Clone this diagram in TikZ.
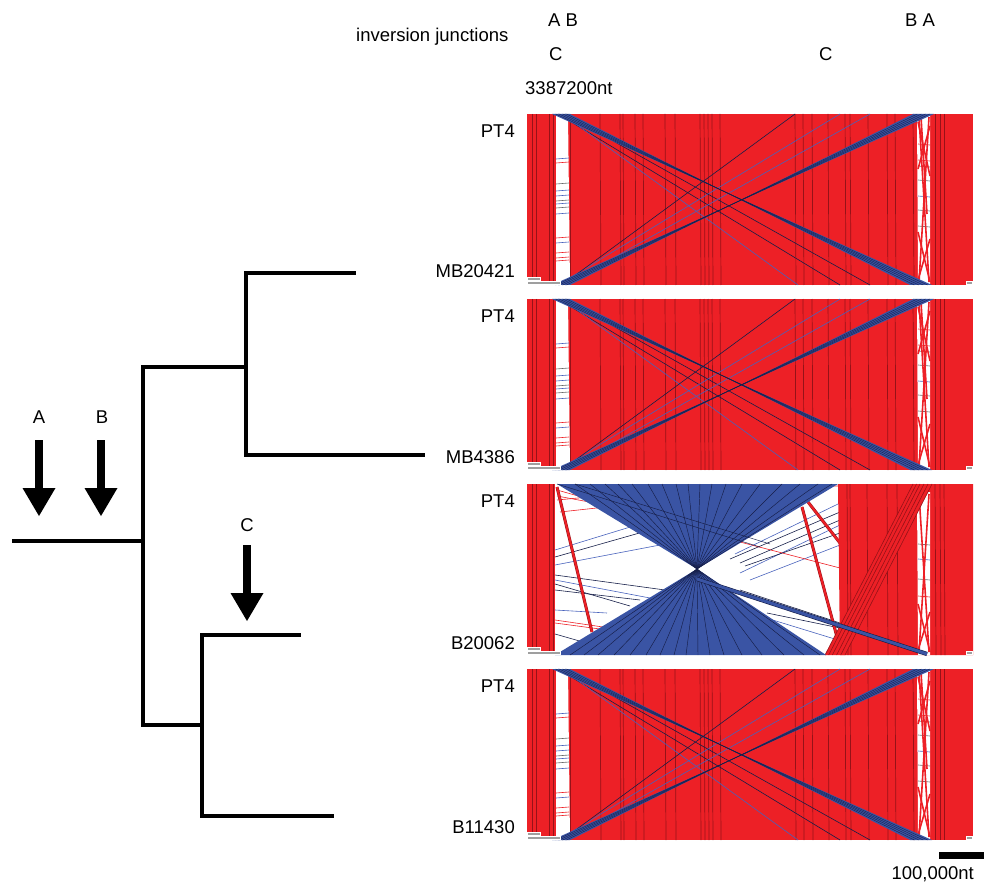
\documentclass[tikz,border=0pt]{standalone}
\usepackage{fontspec}
\setmainfont{Liberation Sans}
\definecolor{matchred}{RGB}{237,32,38}
\definecolor{edgered}{RGB}{150,18,24}
\definecolor{invblue}{RGB}{58,84,164}
\definecolor{navy}{RGB}{22,30,72}
\definecolor{thinblue}{RGB}{72,98,188}
\definecolor{stripgray}{RGB}{105,105,105}
\tikzset{
  lbl/.style={font=\fontsize{18.5}{22}\selectfont, inner sep=0pt},
  branch/.style={line width=4.5pt, line join=miter},
  blockedge/.style={edgered, line width=0.7pt},
  hit/.style={line width=0.6pt},
}
% a mutation marker: shaft and head pointing down at the branch
\newcommand{\mutarrow}[3]{%
  \fill (#1-3.8,#2) rectangle (#1+3.8,#3-27);
  \fill (#1-16.5,#3-28) -- (#1+16.5,#3-28) -- (#1,#3) -- cycle;}
% tiny run labels printed by the comparison viewer
\newcommand{\runtags}{%
  \fill[white] (527,163) rectangle (541,167);
  \fill[white] (527,167) rectangle (561,171);
  \fill[gray!75] (528,164.2) rectangle (540,166);
  \fill[gray!75] (528,168.2) rectangle (560,170);
  \fill[white] (966,167) rectangle (973,171);
  \fill[gray!75] (967,168.2) rectangle (972,170);}
% comparison with the double inversion A/B (height 171)
\newcommand{\collinearpanel}[1]{%
\begin{scope}[shift={(0,#1)}]
  \fill[matchred] (527,0) rectangle (973,171);
  \fill[white] (556,0) -- (568,0) -- (570,171) -- (556,171) -- cycle;
  \fill[white] (917,0) -- (930,0) -- (930,171) -- (918,171) -- cycle;
  \foreach \a/\b in {532/532,536/536,549/549,553/553,570/570,600/601,620/621,623/624,
      635/636,643/644,665/666,675/676,700/701,704/705,708/709,712/713,720/721,
      795/796,803/804,812/813,828/829,845/846,850/851,868/869,887/888,895/896,
      913/914,935/935,940/940,944/944}
    \draw[blockedge] (\a,0) -- (\b,171);
  % short hits inside the left gap
  \foreach \y/\c in {44/thinblue,48/matchred,69/stripgray,76/thinblue,81/thinblue,
      86/stripgray,89/thinblue,93/stripgray,99/thinblue,123/matchred,128/thinblue,
      138/matchred,143/matchred,146/matchred}
    \draw[hit,color=\c] (556,\y+1) -- (569,\y);
  % hits inside the right gap
  \foreach \y/\c in {30/matchred,46/matchred,52/stripgray,66/stripgray,82/thinblue,
      96/stripgray,112/stripgray}
    \draw[hit,color=\c] (918,\y) -- (930,\y+1);
  \foreach \a/\b/\c/\d in {919/3/929/168,929/3/919/168,918/8/930/62,930/12/918/55,
      918/118/930/168,930/125/918/166,921/3/927/100}
    \draw[matchred,line width=1.6pt] (\a,\b) -- (\c,\d);
  % thin crossing hits
  \draw[navy,hit] (558,0) -- (840,171);
  \draw[thinblue,hit] (562,0) -- (798,171);
  \draw[thinblue,hit] (558,171) -- (840,0);
  \draw[navy,hit] (562,171) -- (795,0);
  \draw[navy,hit] (565,0) -- (870,171);
  \draw[thinblue,hit] (565,171) -- (870,0);
  % inverted blocks
  \fill[invblue] (552,0) -- (570,0) -- (910,171) -- (932,171) -- cycle;
  \fill[invblue] (552,171) -- (570,171) -- (913,0) -- (934,0) -- cycle;
  \foreach \s in {0.2,0.4,0.6,0.8} {
    \draw[navy,line width=0.35pt] (552+18*\s,0) -- (932-22*\s,171);
    \draw[navy,line width=0.35pt] (552+18*\s,171) -- (934-21*\s,0);}
  \runtags
\end{scope}}

\begin{document}
\begin{tikzpicture}[x=1pt,y=-1pt]
\useasboundingbox (0,0) rectangle (984,882);

% ---------------- header ----------------
\node[lbl,anchor=base west] (invj) at (356,42) {inversion junctions};
\node[lbl,anchor=base west] (abL) at (548,27) {A B};
\node[lbl,anchor=base west] (cL) at (549,61) {C};
\node[lbl,anchor=base west] (baR) at (905,27) {B A};
\node[lbl,anchor=base west] (cR) at (819,61) {C};
\node[lbl,anchor=base west] (len) at (525,95) {3387200nt};

% ---------------- comparisons ----------------
\collinearpanel{114}
\collinearpanel{299}
\collinearpanel{669}

% B20062: inversion C
\begin{scope}[shift={(0,484)}]
  \fill[matchred] (527,0) rectangle (555,171);
  \foreach \a in {532,536,549,553} \draw[blockedge] (\a,0) -- (\a,171);
  % hits in the open areas
  \foreach \a/\b/\c/\d/\k in {555/73/650/46/navy,555/81/660/61/thinblue,555/91/665/106/navy,
      555/96/650/114/thinblue,555/106/640/116/navy,555/126/607/129/thinblue,
      555/66/640/40/thinblue,555/100/630/122/navy,555/150/590/160/navy,
      740/79/840/36/navy,740/89/840/41/thinblue,745/82/840/49/navy,750/96/840/61/thinblue,
      740/106/840/139/navy,767/129/840/144/navy,740/126/838/156/thinblue,
      730/75/840/28/navy,735/70/838/20/thinblue}
    \draw[hit,color=\k] (\a,\b) -- (\c,\d);
  \foreach \a/\b/\c/\d in {555/136/603/143,555/139/600/145,557/6/617/23,557/16/610/11,
      557/12/600/20,560/28/615/22,740/58/840/84,800/3/838/2}
    \draw[hit,matchred] (\a,\b) -- (\c,\d);
  \draw[edgered,line width=3pt] (557,3) -- (592,148);
  \draw[matchred,line width=2pt] (557,3) -- (592,148);
  \draw[edgered,line width=3pt] (802,23) -- (837,153);
  \draw[matchred,line width=2pt] (802,23) -- (837,153);
  \draw[edgered,line width=3pt] (808,18) -- (840,59);
  \draw[matchred,line width=2pt] (808,18) -- (840,59);
  % collinear block right of the inversion
  \fill[matchred] (838,0) -- (973,0) -- (973,171) -- (840,171) -- cycle;
  \fill[white] (917,8) -- (930,8) -- (930,171) -- (918,171) -- cycle;
  \foreach \y/\c in {60/stripgray,75/thinblue,95/stripgray,112/matchred}
    \draw[hit,color=\c] (918,\y) -- (930,\y+1);
  \foreach \a/\b/\c/\d in {919/10/929/168,929/10/919/168,918/120/930/168,930/128/918/166}
    \draw[matchred,line width=1.6pt] (\a,\b) -- (\c,\d);
  \foreach \a in {847,850,867,887,897,935,940,944}
    \draw[blockedge] (\a,0) -- (\a+1,171);
  % translocated blocks running across
  \fill[matchred] (913,0) -- (932,0) -- (845,171) -- (825,171) -- cycle;
  \foreach \s in {0,3.5,7,11,15,19}
    \draw[edgered,line width=0.6pt] (913+\s,0) -- (825+1.05*\s,171);
  % inverted region C
  \fill[invblue] (557,0) -- (838,0) -- (697,85) -- cycle;
  \fill[invblue] (697,85) -- (555,171) -- (826,171) -- cycle;
  \foreach \x in {575,590,605,618,632,648,662,676,688,700,712,726,742,760,782,800,818,832}
    \draw[navy,line width=0.45pt] (697,85) -- (\x,0);
  \foreach \x in {570,584,598,614,630,646,660,674,686,698,710,724,742,762,784,804,820}
    \draw[navy,line width=0.45pt] (697,85) -- (\x,171);
  \draw[navy,line width=0.45pt] (557,0) -- (760,63);
  \draw[navy,line width=0.45pt] (575,0) -- (770,60);
  \draw[navy,line width=4.2pt] (697,95) -- (927,170);
  \draw[invblue,line width=3pt] (697,95) -- (927,170);
  \runtags
\end{scope}

% strain names
\node[lbl,anchor=base east] (q1) at (515,138) {PT4};
\node[lbl,anchor=base east] (s1) at (515,278) {MB20421};
\node[lbl,anchor=base east] (q2) at (515,322) {PT4};
\node[lbl,anchor=base east] (s2) at (515,463) {MB4386};
\node[lbl,anchor=base east] (q3) at (515,507) {PT4};
\node[lbl,anchor=base east] (s3) at (515,649) {B20062};
\node[lbl,anchor=base east] (q4) at (515,692) {PT4};
\node[lbl,anchor=base east] (s4) at (515,833) {B11430};

% ---------------- tree ----------------
\coordinate (rootL) at (12,541);
\coordinate (rootN) at (143,541);
\coordinate (upN) at (246,367);
\coordinate (loN) at (202,725);
\coordinate (tMB20421) at (356,273);
\coordinate (tMB4386) at (425,455);
\coordinate (tB20062) at (301,635);
\coordinate (tB11430) at (334,816);
\draw[branch] (rootL) -- (rootN);
\draw[branch] (rootN) |- (upN);
\draw[branch] (rootN) |- (loN);
\draw[branch] (upN) |- (tMB20421);
\draw[branch] (upN) |- (tMB4386);
\draw[branch] (loN) |- (tB20062);
\draw[branch] (loN) |- (tB11430);

\mutarrow{39}{440}{516}
\mutarrow{101}{440}{516}
\mutarrow{247}{545}{621}
\node[lbl,anchor=base] (mA) at (39,423) {A};
\node[lbl,anchor=base] (mB) at (102,423) {B};
\node[lbl,anchor=base] (mC) at (247,531) {C};

% scale bar
\fill (939,852) rectangle (984,859);
\node[lbl,anchor=base east] (bar) at (974,879) {100,000nt};
\end{tikzpicture}
\end{document}
